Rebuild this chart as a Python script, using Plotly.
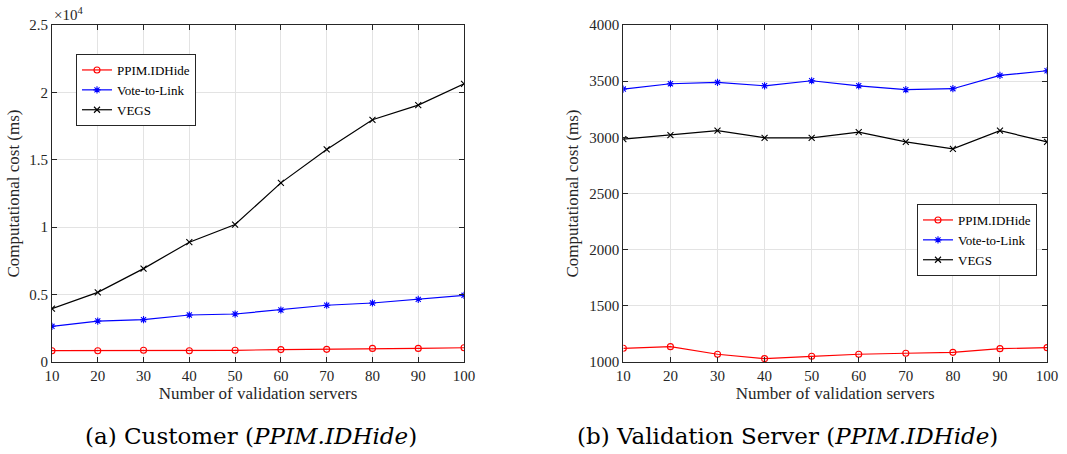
import plotly.graph_objects as go

servers = [10, 20, 30, 40, 50, 60, 70, 80, 90, 100]

# (a) Customer
cust_ppim = [840, 840, 870, 840, 870, 920, 940, 1010, 1010, 1060]
cust_vote = [2650, 3040, 3140, 3490, 3560, 3860, 4210, 4380, 4650, 4950]
cust_vegs = [3960, 5170, 6930, 8890, 10200, 13290, 15770, 17970, 19060, 20640]

# (b) Validation server
vs_ppim = [1122, 1137, 1069, 1030, 1051, 1069, 1078, 1086, 1119, 1128]
vs_vote = [3430, 3477, 3489, 3459, 3504, 3459, 3424, 3433, 3552, 3593]
vs_vegs = [2984, 3020, 3059, 2996, 2996, 3047, 2960, 2898, 3059, 2960]

names = ["PPIM.IDHide", "Vote-to-Link", "VEGS"]
colors = ["#ff0000", "#0000ff", "#000000"]
symbols = ["circle-open", "asterisk-open", "x-thin-open"]

left_ticks = [0, 5000, 10000, 15000, 20000, 25000]
left_ticktext = ["0", "0.5", "1", "1.5", "2", "2.5"]
right_ticks = [1000, 1500, 2000, 2500, 3000, 3500, 4000]

FONT = "'Liberation Serif', 'Times New Roman', Times, serif"
CAP_FONT = "'DejaVu Serif', serif"

fig = go.Figure()

for i, ys in enumerate([cust_ppim, cust_vote, cust_vegs]):
    fig.add_trace(go.Scatter(
        x=servers, y=ys, name=names[i], mode="lines+markers",
        line=dict(color=colors[i], width=1.2),
        marker=dict(symbol=symbols[i], size=6, color=colors[i], line=dict(width=1.1, color=colors[i])),
        xaxis="x", yaxis="y", legend="legend"))

for i, ys in enumerate([vs_ppim, vs_vote, vs_vegs]):
    fig.add_trace(go.Scatter(
        x=servers, y=ys, name=names[i], mode="lines+markers",
        line=dict(color=colors[i], width=1.2),
        marker=dict(symbol=symbols[i], size=6, color=colors[i], line=dict(width=1.1, color=colors[i])),
        xaxis="x2", yaxis="y2", legend="legend2"))

axis_common = dict(
    showline=True, linecolor="#262626", linewidth=1, mirror="ticks",
    ticks="inside", ticklen=5, tickcolor="#262626", automargin=False,
    showgrid=True, gridcolor="#e3e3e3", gridwidth=1, zeroline=False,
    tickfont=dict(family=FONT, size=15, color="#262626"),
)

TITLE_FONT = dict(family=FONT, size=17, color="#262626")

xt = dict(tickvals=servers, range=[10, 100],
          title=dict(text="Number of validation servers", font=TITLE_FONT, standoff=2))

fig.update_layout(
    width=1067, height=454,
    template="none",
    margin=dict(l=0, r=0, t=0, b=0, autoexpand=False),
    paper_bgcolor="white", plot_bgcolor="white",
    xaxis=dict(domain=[0.0487, 0.4349], anchor="y", **xt, **axis_common),
    yaxis=dict(domain=[0.2026, 0.9449], anchor="x", range=[0, 25000],
               tickvals=left_ticks, ticktext=left_ticktext,
               title=dict(text="Computational cost (ms)", font=TITLE_FONT, standoff=5),
               **axis_common),
    xaxis2=dict(domain=[0.5842, 0.9813], anchor="y2", **xt, **axis_common),
    yaxis2=dict(domain=[0.2026, 0.9449], anchor="x2", range=[1000, 4000],
                tickvals=right_ticks,
                title=dict(text="Computational cost (ms)", font=TITLE_FONT, standoff=6),
                **axis_common),
    legend=dict(x=76/1067, y=1-54/454, xanchor="left", yanchor="top",
                bgcolor="white", bordercolor="#262626", borderwidth=1,
                font=dict(family=FONT, size=13, color="#000"), tracegroupgap=0, itemwidth=30),
    legend2=dict(x=917/1067, y=1-204/454, xanchor="left", yanchor="top",
                 bgcolor="white", bordercolor="#262626", borderwidth=1,
                 font=dict(family=FONT, size=13, color="#000"), tracegroupgap=0, itemwidth=30),
    annotations=[
        dict(text="×10<sup>4</sup>", x=52/1067, y=1-14/454, xref="paper", yref="paper",
             xanchor="left", yanchor="middle", showarrow=False,
             font=dict(family=FONT, size=15, color="#262626")),
        dict(text="(a) Customer (<i>PPIM.IDHide</i>)", x=251/1067, y=1-436/454, xref="paper", yref="paper",
             xanchor="center", yanchor="middle", showarrow=False,
             font=dict(family=CAP_FONT, size=23, color="#000")),
        dict(text="(b) Validation Server (<i>PPIM.IDHide</i>)", x=787/1067, y=1-436/454, xref="paper", yref="paper",
             xanchor="center", yanchor="middle", showarrow=False,
             font=dict(family=CAP_FONT, size=23, color="#000")),
    ],
)

fig.write_html("out.html", config={"displayModeBar": False},
               post_script="document.body.style.margin='0';document.body.style.overflow='hidden';")
